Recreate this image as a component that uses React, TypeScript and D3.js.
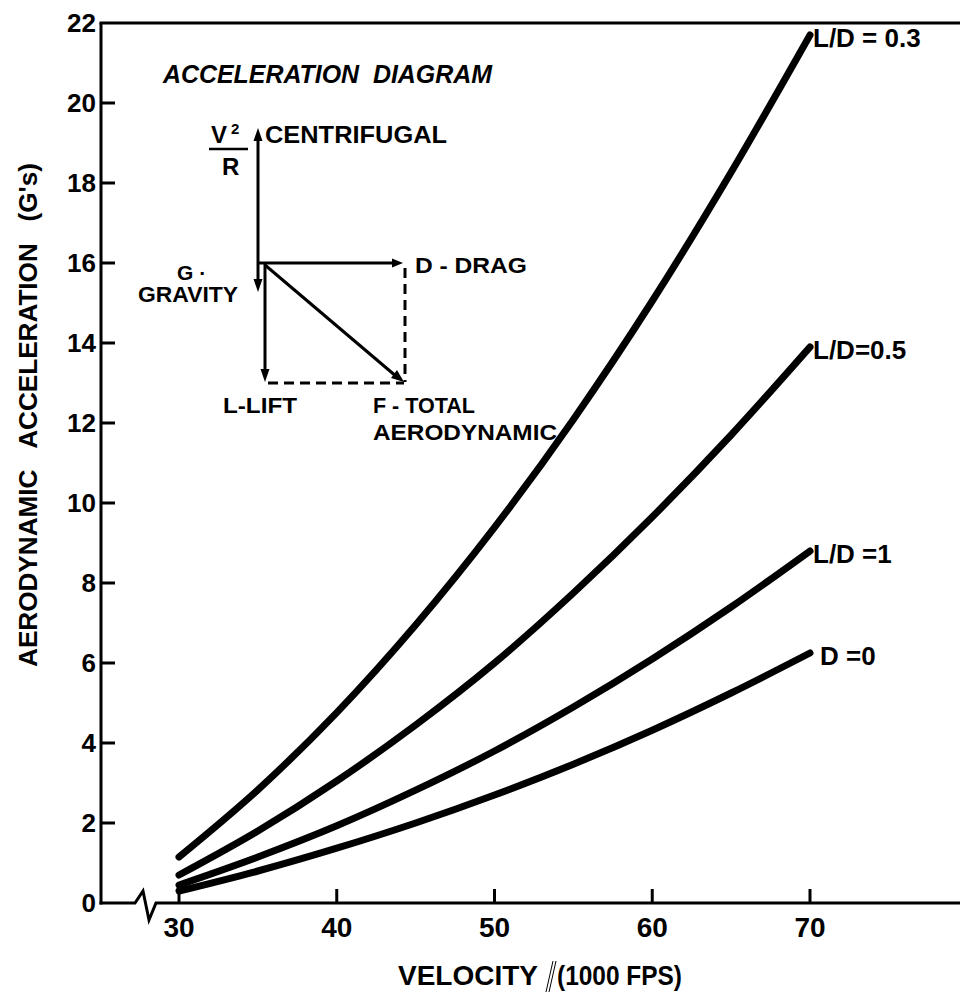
import React from 'react';
import * as d3 from 'd3';

// Velocity (1000 fps) sample points
const velocity = [30, 35, 40, 45, 50, 55, 60, 65, 70];
// Aerodynamic acceleration (G's)
const ldPoint3 = [1.15, 2.83, 4.76, 6.95, 9.39, 12.09, 15.05, 18.27, 21.7];
const ldPoint5 = [0.7, 1.8, 3.05, 4.45, 6.0, 7.75, 9.65, 11.7, 13.9];
const ldOne = [0.45, 1.15, 1.93, 2.82, 3.8, 4.9, 6.1, 7.4, 8.8];
const dZero = [0.3, 0.8, 1.37, 2.0, 2.7, 3.47, 4.32, 5.25, 6.25];
const seriesLabels = ['L/D = 0.3', 'L/D=0.5', 'L/D =1', 'D =0'];
const xTicks = [30, 40, 50, 60, 70];
const yTicks = [0, 2, 4, 6, 8, 10, 12, 14, 16, 18, 20, 22];

const FONT = "'Liberation Sans', Arial, sans-serif";

export default function App() {
  const x = d3.scaleLinear().domain([30, 70]).range([179, 810]);
  const y = d3.scaleLinear().domain([0, 22]).range([903, 23]);
  const series = [ldPoint3, ldPoint5, ldOne, dZero];
  const line = d3
    .line<number>()
    .x((_, i) => x(velocity[i]))
    .y((d) => y(d))
    .curve(d3.curveMonotoneX);

  const axisX = x.range()[0] - 78; // left axis position (101)
  const y0 = y(0);
  const yTop = y(22);

  // acceleration diagram origin
  const ox = 262;
  const oy = 263;

  return (
    <svg
      width={960}
      height={998}
      viewBox="0 0 960 998"
      style={{ position: 'absolute', left: 0, top: 0, background: '#fff' }}
      fontFamily={FONT}
      fontWeight="bold"
    >
      <rect x={0} y={0} width={960} height={998} fill="#fff" />

      {/* frame: left axis and top border */}
      <line x1={axisX} y1={yTop} x2={axisX} y2={y0 + 1.5} stroke="#000" strokeWidth={3} />
      <line x1={axisX - 1.5} y1={yTop} x2={960} y2={yTop} stroke="#000" strokeWidth={3} />

      {/* bottom axis with break */}
      <path
        d={`M${axisX - 1.5},${y0} L135,${y0} L143,${y0 - 12} L149,${y0 + 17} L156,${y0} L960,${y0}`}
        fill="none"
        stroke="#000"
        strokeWidth={3}
        strokeLinejoin="miter"
      />

      {/* y ticks and labels */}
      {yTicks.map((t) => (
        <g key={'y' + t}>
          {t > 0 && t < 22 && (
            <line x1={axisX} x2={axisX + 14} y1={y(t)} y2={y(t)} stroke="#000" strokeWidth={3} />
          )}
          <text x={96} y={y(t) + 9} textAnchor="end" fontSize={26} fill="#000">
            {t}
          </text>
        </g>
      ))}

      {/* x ticks and labels */}
      {xTicks.map((t) => (
        <g key={'x' + t}>
          <line x1={x(t)} x2={x(t)} y1={y0} y2={y0 - (t === 30 ? 16 : 14)} stroke="#000" strokeWidth={3} />
          <text x={x(t)} y={937} textAnchor="middle" fontSize={28} fill="#000">
            {t}
          </text>
        </g>
      ))}

      {/* axis titles */}
      <text
        transform="translate(37,415) rotate(-90)"
        textAnchor="middle"
        fontSize={26}
        textLength={504}
        lengthAdjust="spacingAndGlyphs"
        fill="#000"
        style={{ whiteSpace: 'pre' }}
      >
        {'AERODYNAMIC   ACCELERATION   (G\'s)'}
      </text>
      <text x={398} y={985} fontSize={28} fill="#000">
        VELOCITY
      </text>
      <text x={557} y={985} fontSize={28} textLength={125} lengthAdjust="spacingAndGlyphs" fill="#000">
        (1000 FPS)
      </text>
      <line x1={546} y1={992} x2={553} y2={961} stroke="#000" strokeWidth={1} />
      <line x1={549} y1={992} x2={556} y2={961} stroke="#000" strokeWidth={1} />

      {/* curves */}
      {series.map((s, i) => (
        <path
          key={'c' + i}
          d={line(s) || ''}
          fill="none"
          stroke="#000"
          strokeWidth={7}
          strokeLinecap="round"
        />
      ))}

      {/* curve labels */}
      {series.map((s, i) => (
        <text
          key={'l' + i}
          x={x(70) + (i === 3 ? 10 : 3)}
          y={y(s[s.length - 1]) + 12}
          fontSize={26}
          fill="#000"
          style={{ whiteSpace: 'pre' }}
        >
          {seriesLabels[i]}
        </text>
      ))}

      {/* acceleration diagram */}
      <g fill="#000" stroke="#000">
        <text x={163} y={83} fontSize={25} fontStyle="italic" textLength={329} lengthAdjust="spacingAndGlyphs" stroke="none" style={{ whiteSpace: 'pre' }}>
          {'ACCELERATION  DIAGRAM'}
        </text>

        {/* centrifugal arrow */}
        <line x1={ox - 4} y1={oy} x2={ox - 4} y2={136} strokeWidth={3} />
        <path d={`M${ox - 4},${128} L${ox - 8.5},${141} L${ox + 0.5},${141} Z`} stroke="none" />
        <text x={211} y={143} fontSize={24} stroke="none">V</text>
        <text x={231} y={134} fontSize={15} stroke="none">2</text>
        <line x1={209} x2={248} y1={149} y2={149} strokeWidth={2.5} />
        <text x={222} y={175} fontSize={24} stroke="none">R</text>
        <text x={265} y={143} fontSize={24} textLength={182} lengthAdjust="spacingAndGlyphs" stroke="none">
          CENTRIFUGAL
        </text>

        {/* gravity arrow */}
        <line x1={ox - 4} y1={oy} x2={ox - 4} y2={283} strokeWidth={3} />
        <path d={`M${ox - 4},${292} L${ox - 8.5},${279} L${ox + 0.5},${279} Z`} stroke="none" />
        <text x={177} y={280} fontSize={21} stroke="none">G ·</text>
        <text x={138} y={302} fontSize={22} textLength={100} lengthAdjust="spacingAndGlyphs" stroke="none">
          GRAVITY
        </text>

        {/* drag arrow */}
        <line x1={ox - 4} y1={oy} x2={396} y2={oy} strokeWidth={3} />
        <path d={`M${403},${oy} L${392},${oy - 4.5} L${392},${oy + 4.5} Z`} stroke="none" />
        <text x={415} y={273} fontSize={22} textLength={112} lengthAdjust="spacingAndGlyphs" stroke="none">
          D - DRAG
        </text>

        {/* lift arrow */}
        <line x1={ox + 3} y1={oy} x2={ox + 3} y2={372} strokeWidth={3} />
        <path d={`M${ox + 3},${382} L${ox - 1.5},${369} L${ox + 7.5},${369} Z`} stroke="none" />
        <text x={223} y={413} fontSize={22} textLength={74} lengthAdjust="spacingAndGlyphs" stroke="none">
          L-LIFT
        </text>

        {/* resultant */}
        <line x1={ox + 3} y1={oy + 2} x2={397} y2={377} strokeWidth={3} />
        <path d="M404,382 L391,378 L397,370 Z" stroke="none" />
        <text x={373} y={413} fontSize={22} textLength={102} lengthAdjust="spacingAndGlyphs" stroke="none">
          F - TOTAL
        </text>
        <text x={373} y={440} fontSize={22} textLength={184} lengthAdjust="spacingAndGlyphs" stroke="none">
          AERODYNAMIC
        </text>

        {/* dashed completion */}
        <line x1={405} y1={268} x2={405} y2={382} strokeWidth={3} strokeDasharray="10,6" fill="none" />
        <line x1={ox + 6} y1={383} x2={404} y2={383} strokeWidth={3} strokeDasharray="10,6" fill="none" />
      </g>
    </svg>
  );
}
